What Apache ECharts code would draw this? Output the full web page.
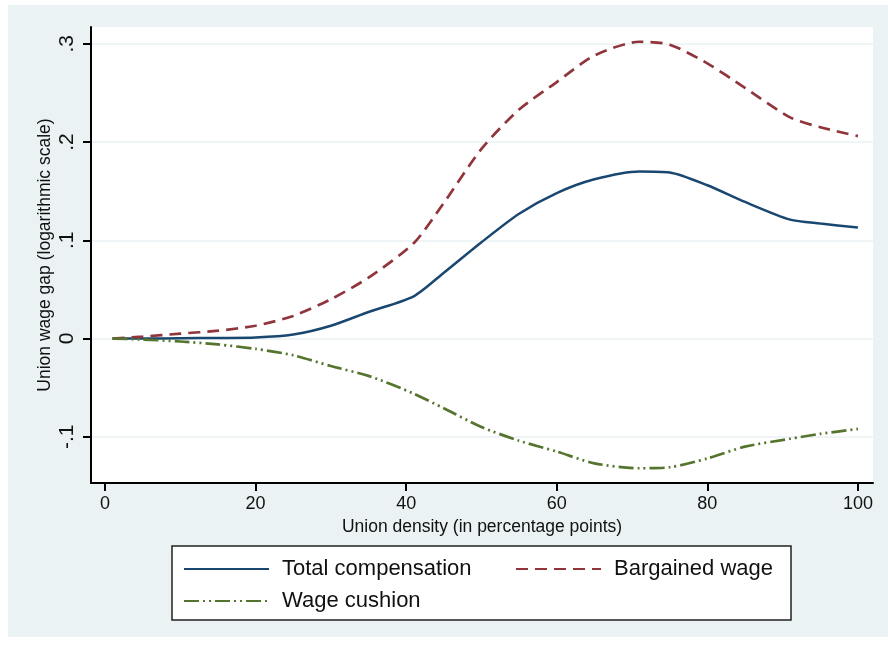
<!DOCTYPE html>
<html>
<head>
<meta charset="utf-8">
<script src="https://cdn.jsdelivr.net/npm/echarts@6/dist/echarts.min.js"></script>
<style>
  html, body { margin: 0; padding: 0; background: #ffffff; }
  #chart { width: 888px; height: 648px; }
</style>
</head>
<body>
<div id="chart"></div>
<script>
// Union density (percentage points) at which each gap is evaluated
var density = [1, 5, 10, 15, 20, 25, 30, 35, 41, 45, 50, 55, 60, 65, 71, 75, 80, 85, 91, 95, 100];

// Union wage gap, log points
var totalCompensation = [0, 0, 0.0003, 0.0006, 0.001, 0.004, 0.013, 0.027, 0.043, 0.067, 0.098, 0.127, 0.148, 0.162, 0.170, 0.169, 0.156, 0.139, 0.121, 0.117, 0.113];
var bargainedWage = [0, 0.002, 0.005, 0.008, 0.013, 0.023, 0.040, 0.062, 0.097, 0.138, 0.193, 0.233, 0.261, 0.288, 0.302, 0.299, 0.280, 0.255, 0.225, 0.215, 0.206];
var wageCushion = [0, -0.001, -0.003, -0.006, -0.0105, -0.017, -0.028, -0.038, -0.056, -0.071, -0.090, -0.104, -0.115, -0.127, -0.132, -0.131, -0.122, -0.110, -0.102, -0.097, -0.092];

var seriesNames = ['Total compensation', 'Bargained wage', 'Wage cushion'];

// Axis ticks and their printed labels
var xTicks = [0, 20, 40, 60, 80, 100];
var yTicks = [-0.1, 0, 0.1, 0.2, 0.3];
var yTickLabels = ['-.1', '0', '.1', '.2', '.3'];

function pairs(xs, ys) {
  return xs.map(function (x, i) { return [x, ys[i]]; });
}

var FONT = 'Liberation Sans, Arial, Helvetica, sans-serif';
var chart = echarts.init(document.getElementById('chart'), null, { renderer: 'canvas' });

// One legend per key entry so each sits in its own slot of the key box
function legendAt(name, left, top) {
  return {
    data: [name],
    left: left,
    top: top,
    orient: 'horizontal',
    padding: 0,
    itemWidth: 85,
    itemHeight: 14,
    selectedMode: false,
    itemStyle: { opacity: 0, borderWidth: 0 },
    textStyle: { fontFamily: FONT, fontSize: 22, color: '#111', padding: [0, 0, 0, 8] }
  };
}

chart.setOption({
  animation: false,
  backgroundColor: '#ffffff',
  graphic: [
    { type: 'rect', z: -10, silent: true, shape: { x: 8, y: 5, width: 880, height: 632 }, style: { fill: '#eaf2f3' } },
    { type: 'rect', z: -5, silent: true, shape: { x: 172, y: 546, width: 619, height: 74 }, style: { fill: '#ffffff', stroke: '#222', lineWidth: 1.5 } }
  ],
  grid: {
    left: 91, right: 15, top: 27, bottom: 165,
    show: true, backgroundColor: '#ffffff', borderWidth: 0
  },
  legend: [
    legendAt(seriesNames[0], 183, 558),
    legendAt(seriesNames[1], 515, 558),
    legendAt(seriesNames[2], 183, 590)
  ],
  xAxis: {
    type: 'value',
    min: -1.86,
    max: 102,
    name: 'Union density (in percentage points)',
    nameLocation: 'middle',
    nameGap: 31,
    nameTextStyle: { fontFamily: FONT, fontSize: 17.5, color: '#111' },
    axisLine: { show: true, onZero: false, lineStyle: { color: '#000', width: 2 } },
    axisTick: { show: true, length: 8, lineStyle: { color: '#000', width: 2 }, customValues: xTicks },
    axisLabel: { fontFamily: FONT, fontSize: 18, color: '#111', margin: 12, customValues: xTicks },
    splitLine: { show: false }
  },
  yAxis: {
    type: 'value',
    min: -0.147,
    max: 0.317,
    name: 'Union wage gap (logarithmic scale)',
    nameLocation: 'middle',
    nameRotate: 90,
    nameGap: 37,
    nameMoveOverlap: false,
    nameTextStyle: { fontFamily: FONT, fontSize: 17.5, color: '#111' },
    axisLine: { show: true, onZero: false, lineStyle: { color: '#000', width: 2 } },
    axisTick: { show: true, length: 8, lineStyle: { color: '#000', width: 2 }, customValues: yTicks },
    axisLabel: {
      fontFamily: FONT, fontSize: 21, color: '#111', rotate: 90, margin: 13,
      customValues: yTicks,
      formatter: function (v) {
        for (var i = 0; i < yTicks.length; i++) {
          if (Math.abs(yTicks[i] - v) < 1e-9) return yTickLabels[i];
        }
        return '';
      }
    },
    splitLine: { show: true, lineStyle: { color: '#eaf2f3', width: 1.5 } }
  },
  series: [
    {
      name: seriesNames[0], type: 'line', data: pairs(density, totalCompensation),
      showSymbol: false, symbol: 'none', smooth: 0.25,
      lineStyle: { color: '#1a476f', width: 2.5, type: 'solid' },
      itemStyle: { color: '#1a476f' }
    },
    {
      name: seriesNames[1], type: 'line', data: pairs(density, bargainedWage),
      showSymbol: false, symbol: 'none', smooth: 0.25,
      lineStyle: { color: '#90353b', width: 2.7, type: [12, 7] },
      itemStyle: { color: '#90353b' }
    },
    {
      name: seriesNames[2], type: 'line', data: pairs(density, wageCushion),
      showSymbol: false, symbol: 'none', smooth: 0.25,
      lineStyle: { color: '#55752f', width: 2.7, type: [15, 4, 2, 4, 2, 4] },
      itemStyle: { color: '#55752f' }
    }
  ]
});
</script>
</body>
</html>
